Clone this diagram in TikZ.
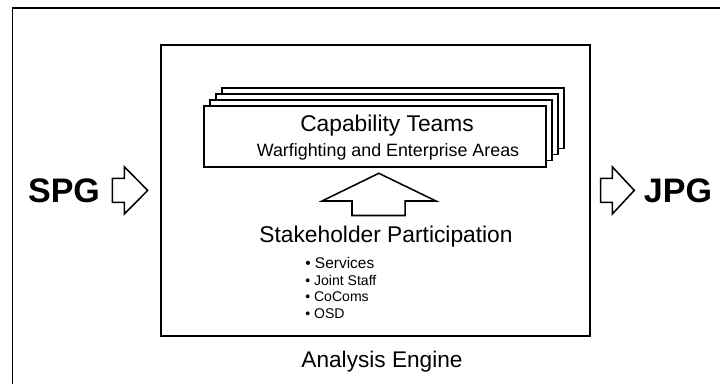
\documentclass[tikz,border=0pt]{standalone}
\usepackage{fontspec}
\setmainfont{Liberation Sans}
\usetikzlibrary{positioning}

\begin{document}
\begin{tikzpicture}[every node/.style={inner sep=0pt},
    frame/.style={draw, line width=1.4pt},
    card/.style={draw, fill=white, line width=1pt, minimum width=8.55cm, minimum height=1.51cm},
    blockarrow/.style={draw, line width=1.1pt, line join=miter}]
    \useasboundingbox (0,0) rectangle (18,9.6);

    % Outer frame (runs off the page)
    \draw[frame] (18,9.4) -- (0.3125,9.4) -- (0.3125,0);

    % Analysis engine
    \node[frame, minimum width=10.725cm, minimum height=7.275cm] (engine) at (9.3875,4.8375) {};
    \node (enginelabel) at (9.55,0.5575) {\fontsize{16.1}{18}\selectfont Analysis Engine};

    % Capability team cards
    \node[card] (card3) at (9.825,6.64) {};
    \node[card] (card2) at (9.675,6.49) {};
    \node[card] (card1) at (9.525,6.34) {};
    \node[card, line width=1.3pt] (teams) at (9.375,6.19) {};
    \node (teamstitle) at (9.675,6.4625) {\fontsize{16.2}{18}\selectfont Capability Teams};
    \node (teamsareas) at (9.7,5.8) {\fontsize{12.7}{14}\selectfont Warfighting and Enterprise Areas};

    % Stakeholders
    \node (stake) at (9.65,3.675) {\fontsize{16.2}{18}\selectfont Stakeholder Participation};
    \node[align=left, anchor=west] (stakelist) at (7.625,2.40)
        {\fontsize{11}{13.2}\selectfont • Services\\ • Joint Staff\\ • CoComs\\ • OSD};

    % Up arrow
    \draw[blockarrow] (8.8,4.2125) -- (8.8,4.575) -- (8.05,4.575) -- (9.47,5.2675)
        -- (10.9,4.575) -- (10.13,4.575) -- (10.13,4.2125) -- cycle;

    % Input
    \node (spg) at (1.6,4.825) {\bfseries\fontsize{24.2}{28}\selectfont SPG};
    \draw[blockarrow] (2.8075,5.14) -- (3.1075,5.14) -- (3.1075,5.43) -- (3.6925,4.84)
        -- (3.1075,4.25) -- (3.1075,4.54) -- (2.8075,4.54) -- cycle;

    % Output
    \node (jpg) at (16.95,4.825) {\bfseries\fontsize{24.2}{28}\selectfont JPG};
    \draw[blockarrow] (15.0175,5.14) -- (15.3075,5.14) -- (15.3075,5.43) -- (15.8575,4.84)
        -- (15.3075,4.25) -- (15.3075,4.54) -- (15.0175,4.54) -- cycle;
\end{tikzpicture}
\end{document}
